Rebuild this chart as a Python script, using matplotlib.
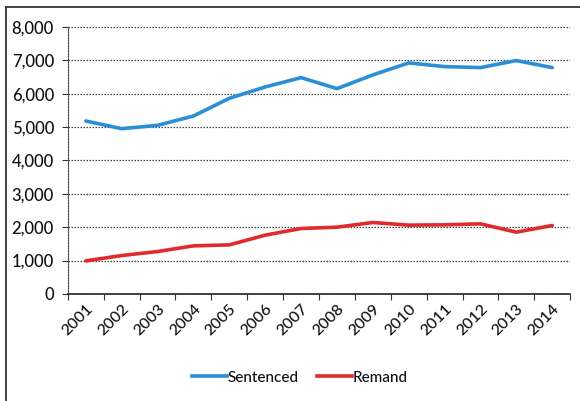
import matplotlib
matplotlib.use("Agg")
import matplotlib.pyplot as plt
from matplotlib.lines import Line2D

years = ["2001", "2002", "2003", "2004", "2005", "2006", "2007",
         "2008", "2009", "2010", "2011", "2012", "2013", "2014"]
sentenced = [5180, 4950, 5050, 5330, 5860, 6200, 6480,
             6150, 6560, 6920, 6810, 6780, 6990, 6780]
remand = [990, 1150, 1270, 1440, 1470, 1760, 1960,
          2000, 2140, 2060, 2070, 2100, 1850, 2050]
y_ticks = [0, 1000, 2000, 3000, 4000, 5000, 6000, 7000, 8000]

plt.rcParams["font.family"] = ["Lato", "DejaVu Sans"]
plt.rcParams["font.weight"] = "medium"
plt.rcParams["text.color"] = "#111111"
plt.rcParams["xtick.color"] = "#333333"
plt.rcParams["ytick.color"] = "#333333"
plt.rcParams["xtick.labelcolor"] = "#111111"
plt.rcParams["ytick.labelcolor"] = "#111111"

fig = plt.figure(figsize=(5.8, 4.01), dpi=100)
ax = fig.add_axes([0.117, 0.267, 0.866, 0.666])

x = range(len(years))
ax.plot(x, sentenced, color="#2a8fd6", lw=2.6, solid_capstyle="round")
ax.plot(x, remand, color="#e02a2e", lw=2.6, solid_capstyle="round")

ax.set_xlim(-0.5, len(years) - 0.5)
ax.set_ylim(0, 8000)

ax.set_yticks(y_ticks)
ax.set_yticklabels([f"{v:,}" for v in y_ticks], fontsize=12)
ax.yaxis.grid(True, linestyle=(0, (1.2, 1.2)), color="#444444", lw=0.9)
ax.set_axisbelow(True)

# tick marks at category boundaries, labels at category centres
ax.set_xticks([i - 0.5 for i in range(len(years) + 1)])
ax.set_xticklabels([])
ax.set_xticks(list(x), minor=True)
ax.set_xticklabels(years, minor=True, rotation=45, ha="right",
                   rotation_mode="anchor", fontsize=11.5)
ax.tick_params(axis="x", which="minor", length=0, pad=6)
ax.tick_params(axis="x", which="major", length=4)
ax.tick_params(axis="y", length=4, pad=6)

for s in ("top", "right"):
    ax.spines[s].set_visible(False)
ax.spines["left"].set_linestyle((0, (1.2, 1.2)))
ax.spines["left"].set_color("#444444")
ax.spines["bottom"].set_color("#222222")
ax.spines["bottom"].set_linewidth(1.2)

handles = [Line2D([], [], color="#2a8fd6", lw=2.6),
           Line2D([], [], color="#e02a2e", lw=2.6)]
fig.legend(handles, ["Sentenced", "Remand"], loc="center",
           bbox_to_anchor=(0.517, 0.058), ncol=2, frameon=False,
           fontsize=11, handlelength=2.3, handletextpad=0.05,
           columnspacing=1.2)

# outer frame (left and top edges)
fig.add_artist(Line2D([6 / 580, 6 / 580], [0, 1 - 7 / 401],
                      transform=fig.transFigure, color="#333333", lw=1.3))
fig.add_artist(Line2D([6 / 580, 1], [1 - 7 / 401, 1 - 7 / 401],
                      transform=fig.transFigure, color="#333333", lw=1.3))

fig.savefig("out.png", dpi=100)
